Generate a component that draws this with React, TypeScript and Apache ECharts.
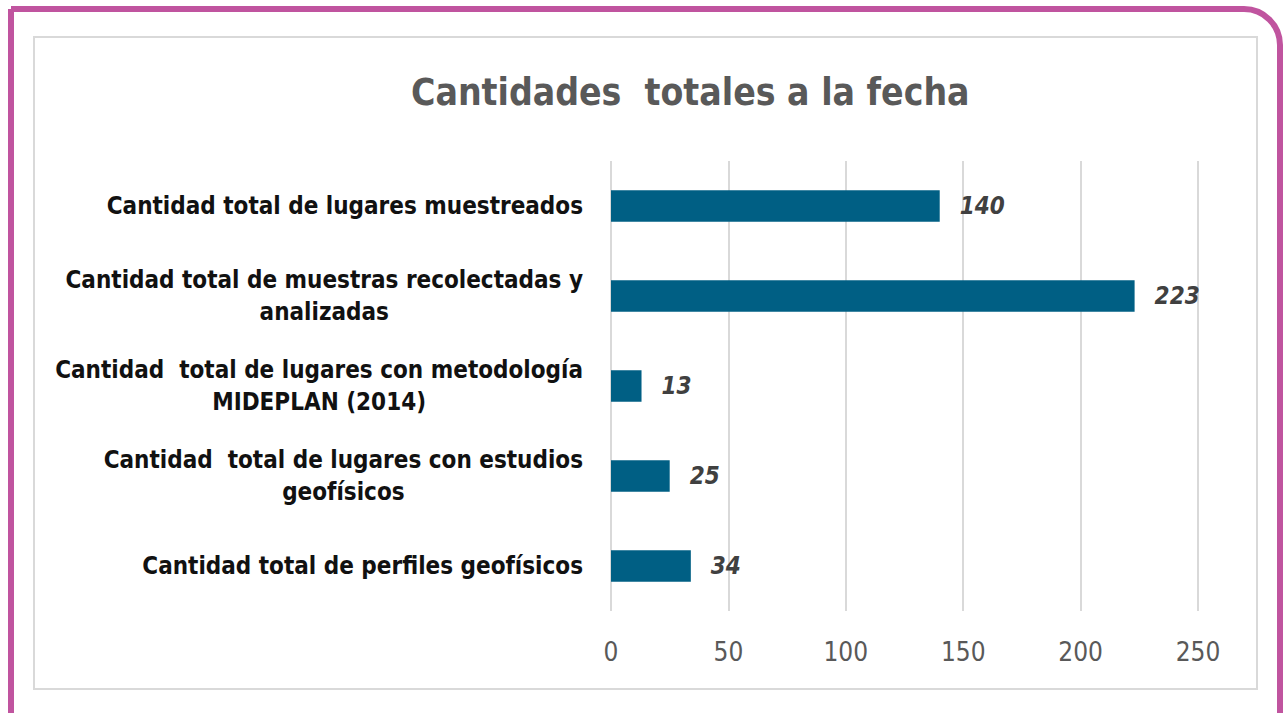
import React, { useEffect, useRef } from "react";
import * as echarts from "echarts";

const categories: string[][] = [
  ["Cantidad total de lugares muestreados"],
  ["Cantidad total de muestras recolectadas y", "analizadas"],
  ["Cantidad  total de lugares con metodología", "MIDEPLAN (2014)"],
  ["Cantidad  total de lugares con estudios", "geofísicos"],
  ["Cantidad total de perfiles geofísicos"],
];
const values: number[] = [140, 223, 13, 25, 34];
const xTicks = { min: 0, max: 250, interval: 50 };
const titleText = "Cantidades  totales a la fecha";

const FONT = "'DejaVu Sans Condensed', 'DejaVu Sans', Roboto, sans-serif";

export default function App() {
  const ref = useRef<HTMLDivElement>(null);
  useEffect(() => {
    if (!ref.current) return;
    const chart = echarts.init(ref.current, undefined, { renderer: "svg" });
    const catKeys = categories.map((c) => c.join("\n"));
    chart.setOption({
      animation: false,
      backgroundColor: "#ffffff",
      title: {
        text: titleText,
        left: 406,
        top: 69,
        textStyle: { fontFamily: FONT, fontWeight: "bold", fontSize: 37, color: "#595959" },
      },
      graphic: [
        {
          type: "rect",
          shape: { x: 11, y: 9, width: 1269, height: 800, r: [0, 36, 0, 0] },
          style: { fill: "none", stroke: "#C0549F", lineWidth: 6 },
          silent: true,
        },
        {
          type: "rect",
          shape: { x: 34, y: 37, width: 1223, height: 652 },
          style: { fill: "none", stroke: "#d9d9d9", lineWidth: 2 },
          silent: true,
        },
      ],
      grid: { left: 611, right: 85, top: 161, bottom: 102, outerBoundsMode: "none" },
      xAxis: {
        type: "value",
        min: xTicks.min,
        max: xTicks.max,
        interval: xTicks.interval,
        axisLine: { show: false },
        axisTick: { show: false },
        splitLine: { lineStyle: { color: "#d9d9d9", width: 2 } },
        axisLabel: { fontFamily: FONT, fontSize: 26, color: "#595959", margin: 28 },
      },
      yAxis: {
        type: "category",
        inverse: true,
        data: catKeys,
        axisLine: { show: false },
        axisTick: { show: false },
        axisLabel: {
          margin: 28,
          formatter: (v: string) => v.split("\n").map((l) => "{c|" + l + "}").join("\n"),
          rich: {
            c: {
              align: "center",
              fontFamily: FONT,
              fontWeight: "bold",
              fontSize: 24,
              lineHeight: 32,
              color: "#111111",
            },
          },
        },
      },
      series: [
        {
          type: "bar",
          data: values,
          barWidth: "35%",
          itemStyle: { color: "#005F84" },
          label: {
            show: true,
            position: "right",
            distance: 20,
            fontFamily: FONT,
            fontStyle: "italic",
            fontWeight: "bold",
            fontSize: 24,
            color: "#404040",
          },
        },
      ],
    });
    return () => chart.dispose();
  }, []);
  return (
    <div
      ref={ref}
      style={{ position: "fixed", left: 0, top: 0, width: 1283, height: 713 }}
    />
  );
}
